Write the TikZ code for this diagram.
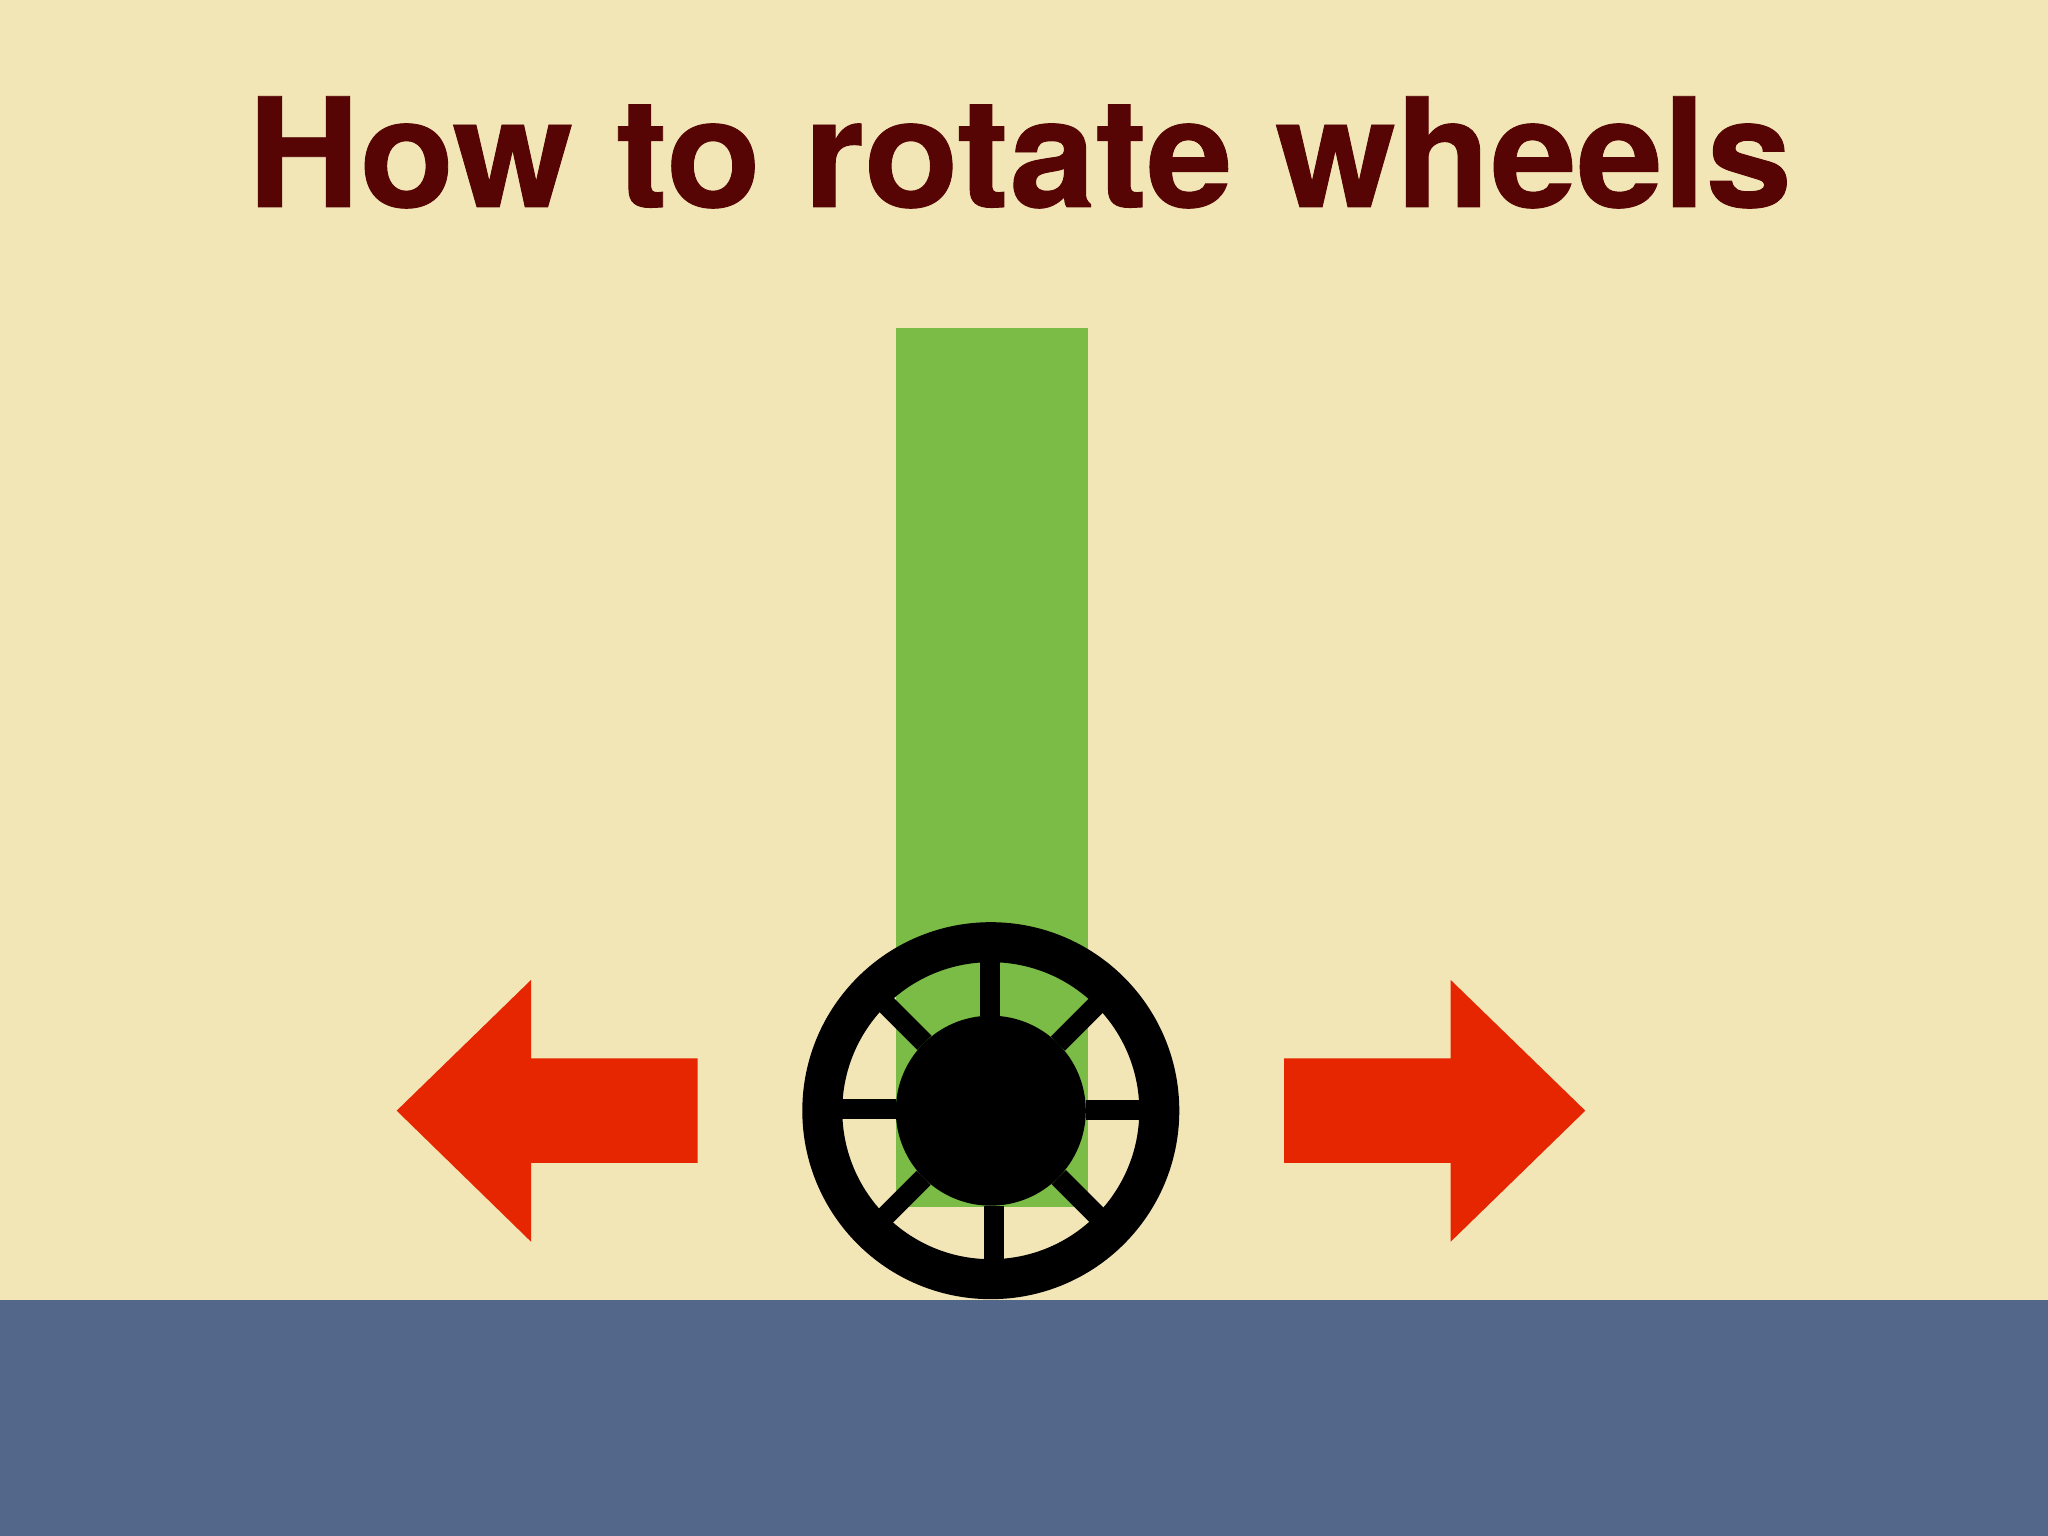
\documentclass[tikz,border=0pt]{standalone}
\usepackage{fontspec}
\setmainfont[BoldFeatures={FakeStretch=1.02,FakeBold=0.6}]{TeX Gyre Heros}
\usepackage{tikz}
\usetikzlibrary{calc}
\definecolor{sandbg}{HTML}{F2E5B6}
\definecolor{groundblue}{HTML}{526789}
\definecolor{mastgreen}{HTML}{7ABC45}
\definecolor{pushred}{HTML}{E62600}
\definecolor{titlered}{HTML}{560404}

\begin{document}
\begin{tikzpicture}[
		block/.style={rectangle, inner sep=0pt, outer sep=0pt},
		rim/.style={circle, inner sep=0pt, outer sep=0pt, draw=black, line width=0.4cm, minimum size=3.37cm},
		hub/.style={circle, inner sep=0pt, outer sep=0pt, fill=black, minimum size=1.9cm},
		spoke/.style={black, line width=0.2cm},
		pusharrow/.style={fill=pushred}]
		
		\fill[sandbg] (0, 0) rectangle (20.48, 15.36);
		\useasboundingbox (0, 0) rectangle (20.48, 15.36);
		
		\node[block, fill=groundblue, minimum width=20.48cm, minimum height=2.36cm] (ground) at (10.24, 1.18) {};
		\node[block, fill=mastgreen, minimum width=1.92cm, minimum height=8.79cm] (mast) at (9.92, 7.685) {};
		
		\node[anchor=base, text=titlered, font=\bfseries\fontsize{43.2pt}{50pt}\selectfont] (title) at (10.20, 13.29) {How to rotate wheels};
		
		\node[rim] (wheel) at (9.908, 4.253) {};
		\node[hub] (axle) at (9.908, 4.253) {};
		
		% small offsets, the spokes do not quite meet the centre
		\foreach \ang/\dx/\dy in {90/-0.008/0, 270/0.028/0, 180/0/0.013, 0/0/0.003, 135/0.0075/0.0075, 45/0/0, 225/0/0, 315/0.0075/0.0075}
			\draw[spoke] ($(axle.\ang) + (\dx, \dy)$) -- ($(wheel.\ang) + (\dx, \dy)$);
		
		\fill[pusharrow] (3.967, 4.253) -- (5.31, 5.56) -- (5.31, 4.777) -- (6.977, 4.777) -- (6.977, 3.73) -- (5.31, 3.73) -- (5.31, 2.943) -- cycle;
		\fill[pusharrow] (15.853, 4.253) -- (14.507, 5.56) -- (14.507, 4.777) -- (12.84, 4.777) -- (12.84, 3.73) -- (14.507, 3.73) -- (14.507, 2.943) -- cycle;
		
\end{tikzpicture}
\end{document}
